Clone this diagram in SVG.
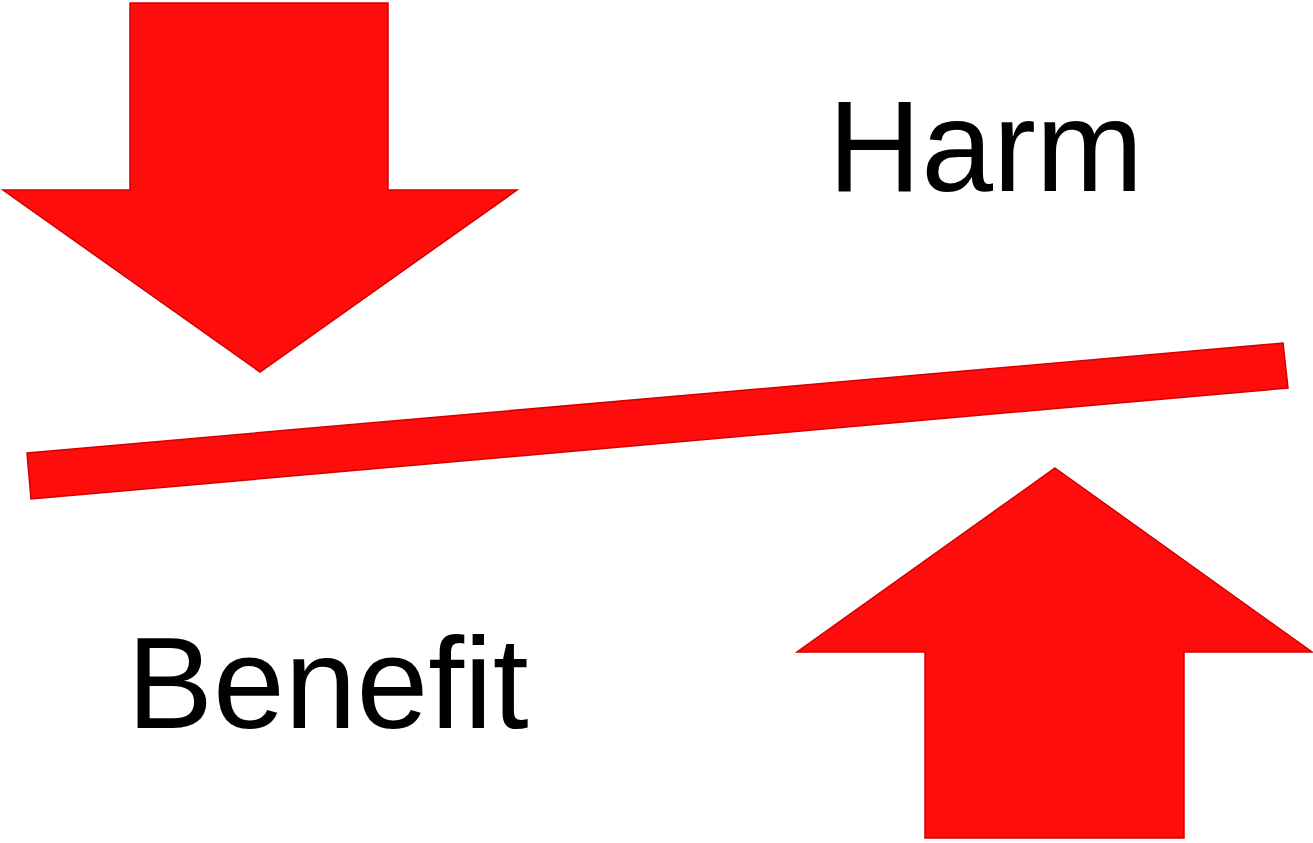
<svg xmlns="http://www.w3.org/2000/svg" width="1313" height="843" viewBox="0 0 1313 843">
<style>
.shape{fill:#ff0c0c;stroke:#d40000;stroke-width:1.5;stroke-linejoin:miter}
.label{font-family:"Liberation Sans",Arial,sans-serif;font-size:129px;fill:#000}
</style>
<rect width="1313" height="843" fill="#fff"/>
<g id="harm-arrow">
<polygon class="shape" points="130,3 388,3 388,190 517,190 260,372 3,190 130,190"/>
</g>
<g id="balance-bar">
<polygon class="shape" points="27,453 1283,343 1288,388 31,499"/>
</g>
<g id="benefit-arrow">
<polygon class="shape" points="1055,468 1312,652 1184,652 1184,838 925,838 925,652 797,652"/>
</g>
<g id="harm-label">
<text class="label" x="828" y="191">Harm</text>
</g>
<g id="benefit-label">
<text class="label" x="127" y="728">Benefit</text>
</g>
</svg>
